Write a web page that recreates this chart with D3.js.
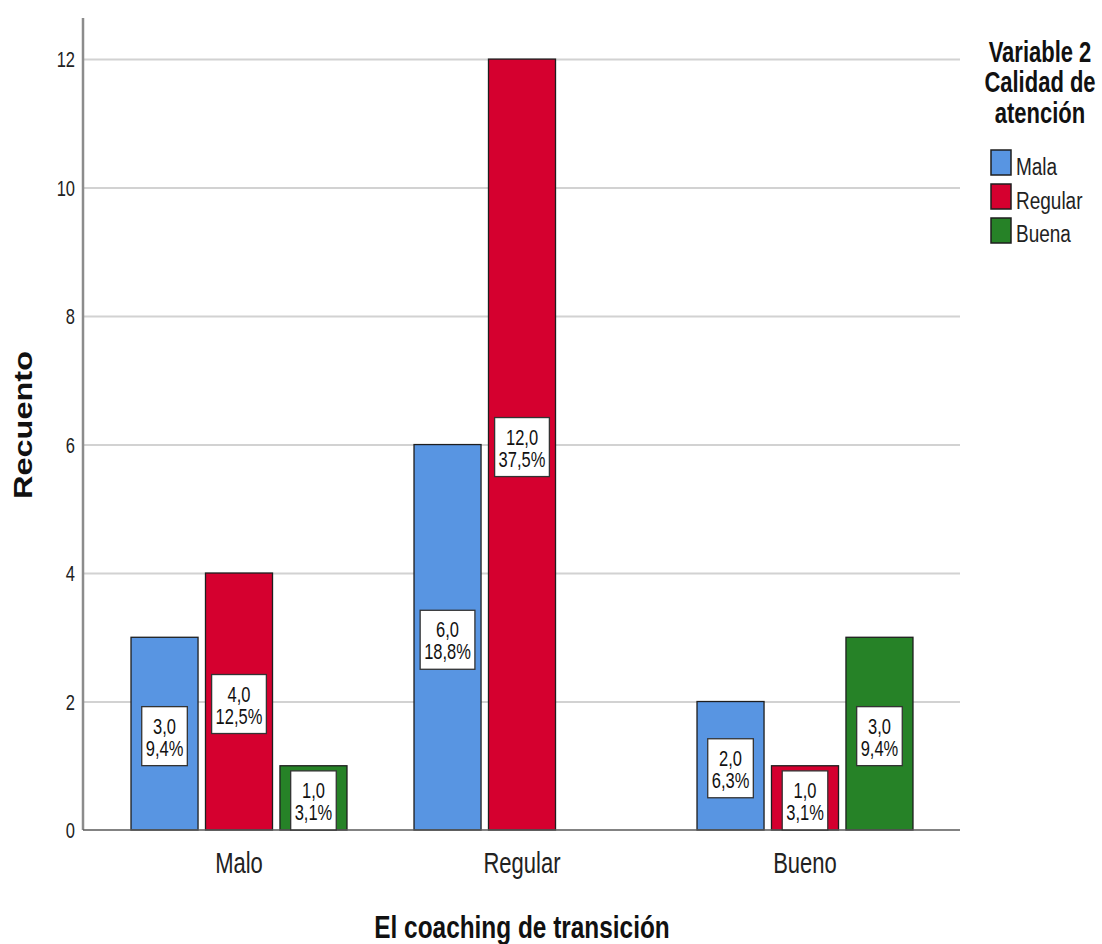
<!DOCTYPE html>
<html>
<head>
<meta charset="utf-8">
<script src="https://cdn.jsdelivr.net/npm/d3@7"></script>
<style>
  body { margin: 0; background: #fff; }
  svg { display: block; font-family: "Liberation Sans", Arial, sans-serif; }
</style>
</head>
<body>
<svg id="chart" width="1102" height="944"></svg>
<script>
var svg = d3.select('#chart')

// data
var categories = ["Malo", "Regular", "Bueno"];
var series = ["Mala", "Regular", "Buena"];
var mala = [3, 6, 2];
var regular = [4, 12, 1];
var buena = [1, 0, 3];
var malaPct = ["9,4%", "18,8%", "6,3%"];
var regularPct = ["12,5%", "37,5%", "3,1%"];
var buenaPct = ["3,1%", "0,0%", "9,4%"];
var yTicks = [0, 2, 4, 6, 8, 10, 12];

var colors = ["#5895e2", "#d5002f", "#268227"];
var SY = 1.3; // text in the picture is stretched vertically

var plotL = 83, plotR = 960, plotB = 830, plotT = 18;

var rows = [];
categories.forEach(function (c, i) {
    rows.push({ cat: c, s: "Mala", v: mala[i], pct: malaPct[i] });
    rows.push({ cat: c, s: "Regular", v: regular[i], pct: regularPct[i] });
    rows.push({ cat: c, s: "Buena", v: buena[i], pct: buenaPct[i] });
});

var y = d3.scaleLinear().domain([0, 12.64]).range([plotB, plotT]);
var x0 = d3.scaleBand().domain(categories).range([97.5, 946.5]);
var x1 = d3.scaleBand().domain(series).range([0, x0.bandwidth()])
    .paddingInner(0.1).paddingOuter(0.45);
var color = d3.scaleOrdinal().domain(series).range(colors);

// gridlines + y tick labels
var yAxis = svg.append("g")
    .attr("transform", "translate(" + plotL + ",0)")
    .call(d3.axisLeft(y).tickValues(yTicks).tickSize(-(plotR - plotL)).tickPadding(8))
yAxis.select(".domain").remove();
yAxis.selectAll("line")
    .attr("stroke", function (d) { return d === 0 ? "none" : "#d2d2d2" })
    .attr("stroke-width", 2);
yAxis.selectAll("text")
    .attr("font-size", 16.5)
    .attr("fill", "#222")
    .attr("dy", "0.36em")
    .attr("transform", "scale(1," + SY + ")");

var bars = rows.filter(function (d) { return d.v > 0 });

svg.selectAll(".bar")
    .data(bars)
    .enter()
    .append("rect")
    .attr("class", "bar")
    .attr("x", function (d) { return x0(d.cat) + x1(d.s) })
    .attr("y", function (d) { return y(d.v) })
    .attr("width", x1.bandwidth())
    .attr("height", function (d) { return y(0) - y(d.v) })
    .attr("fill", function (d) { return color(d.s) })
    .attr("stroke", "#1e1e1e")
    .attr("stroke-width", 1.3);

// axis lines
svg.append("line")
    .attr("x1", plotL).attr("x2", plotL).attr("y1", plotT).attr("y2", plotB)
    .attr("stroke", "#8c8c8c").attr("stroke-width", 2.5);
svg.append("line")
    .attr("x1", plotL).attr("x2", plotR).attr("y1", plotB).attr("y2", plotB)
    .attr("stroke", "#5a5a5a").attr("stroke-width", 1.5);

// value labels
var lab = svg.selectAll(".lab")
    .data(bars)
    .enter()
    .append("g")
    .attr("class", "lab")
    .attr("transform", function (d) {
        return "translate(" + (x0(d.cat) + x1(d.s) + x1.bandwidth() / 2) + "," + ((y(0) + y(d.v)) / 2) + ")"
    });

var box = lab.append("rect").attr("fill", "#fff").attr("stroke", "#333").attr("stroke-width", 1.3);

lab.append("text")
    .attr("text-anchor", "middle")
    .attr("font-size", 16.5)
    .attr("fill", "#111")
    .attr("transform", "translate(0,0) scale(1," + SY + ")")
    .text(function (d) { return d.v.toFixed(1).replace(".", ",") });
lab.append("text")
    .attr("class", "pct")
    .attr("text-anchor", "middle")
    .attr("font-size", 16.5)
    .attr("fill", "#111")
    .attr("transform", "translate(0,22) scale(1," + SY + ")")
    .text(function (d) { return d.pct });

box.each(function (d) {
    var g = d3.select(this.parentNode);
    var w = g.select(".pct").node().getComputedTextLength() + 8;
    var mid = (y(0) + y(d.v)) / 2;
    var h = Math.min(59, y(0) - mid + 27);
    d3.select(this)
        .attr("x", -w / 2).attr("width", w)
        .attr("y", -27).attr("height", h);
});

// category labels
var xAxis = svg.append("g")
    .attr("transform", "translate(0," + plotB + ")")
    .call(d3.axisBottom(x0).tickSize(0));
xAxis.select(".domain").remove();
xAxis.selectAll("text")
    .attr("font-size", 22)
    .attr("fill", "#222")
    .attr("y", 0).attr("dy", 0)
    .attr("transform", "translate(0,43) scale(1," + SY + ")");

// axis titles
svg.append("text")
    .attr("text-anchor", "middle")
    .attr("font-size", 24.4)
    .attr("font-weight", "bold")
    .attr("fill", "#111")
    .attr("transform", "translate(522,938) scale(1," + SY + ")")
    .text("El coaching de transición");

svg.append("text")
    .attr("text-anchor", "middle")
    .attr("font-size", 25)
    .attr("font-weight", "bold")
    .attr("fill", "#111")
    .attr("transform", "translate(32,425) rotate(-90) scale(" + SY + ",1)")
    .text("Recuento");

// legend
var titleLines = ["Variable 2", "Calidad de", "atención"];
var titleBase = [62, 92, 123];
svg.selectAll(".ltitle")
    .data(titleLines)
    .enter()
    .append("text")
    .attr("text-anchor", "middle")
    .attr("font-size", 22)
    .attr("font-weight", "bold")
    .attr("fill", "#111")
    .attr("transform", function (d, i) { return "translate(1040," + titleBase[i] + ") scale(1,1.38)" })
    .text(function (d) { return d });

svg.selectAll(".lsw")
    .data(series)
    .enter()
    .append("rect")
    .attr("x", 991)
    .attr("y", function (d, i) { return 150 + i * 34 })
    .attr("width", 20)
    .attr("height", 25)
    .attr("fill", function (d) { return color(d) })
    .attr("stroke", "#1e1e1e")
    .attr("stroke-width", 1.5);

svg.selectAll(".llab")
    .data(series)
    .enter()
    .append("text")
    .attr("font-size", 19)
    .attr("fill", "#222")
    .attr("transform", function (d, i) { return "translate(1016," + (175 + i * 33.5) + ") scale(1,1.23)" })
    .text(function (d) { return d });
</script>
</body>
</html>
